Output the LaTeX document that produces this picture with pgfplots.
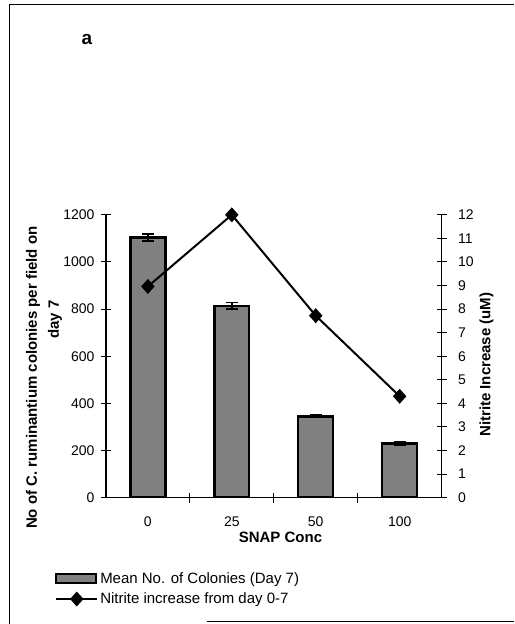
\documentclass[border=0pt]{standalone}
\usepackage{fontspec}
\setmainfont{Liberation Sans}
\usepackage{pgfplots}
\pgfplotsset{compat=1.18}
\usetikzlibrary{patterns}

% bar look: grey with stipple, heavy outline drawn last
\tikzset{colbar/.style={draw=none, fill=black!50,
  postaction={pattern=crosshatch dots, pattern color=white!85!gray},
  postaction={draw=black, line width=2.4pt}}}

\pgfplotsset{
  boxlegend/.style={legend image code/.code={\draw[##1] (0pt,-4.5pt) rectangle (40pt,4.5pt);}},
  linelegend/.style={legend image code/.code={
    \draw[##1, mark=none] (0pt,0pt) -- (41pt,0pt);
    \draw[##1, only marks] plot coordinates {(20.5pt,0pt)};}},
}

\begin{document}
\begin{tikzpicture}[x=1pt,y=1pt]
\path (0,0) rectangle (514,624);

% scanned frame
\draw[line width=1pt] (10,0) -- (10,619) -- (514,619);
\draw[line width=1pt] (207,2) -- (514,2);

\pgfplotsset{
  every axis/.append style={
    scale only axis, width=336pt, height=283pt,
    at={(106pt,126pt)}, anchor=south west,
    xmin=-0.5, xmax=3.5,
    tick align=center, major tick length=10pt, minor tick length=10pt,
    tick style={line width=1pt, black},
    axis line style={line width=1.4pt},
    ticklabel style={font=\fontsize{14}{16}\selectfont},
    /pgf/number format/assume math mode=true,
    /pgf/number format/1000 sep={},
  }
}

% left axis: colony counts
\begin{axis}[
    axis x line*=bottom, axis y line*=left,
    ymin=0, ymax=1200, ytick={0,200,...,1200},
    xtick={0,1,2,3}, xticklabels={0,25,50,100},
    every major x tick/.append style={draw=none},
    minor xtick={0.5,1.5,2.5},
    xticklabel style={yshift=-11pt},
    yticklabel style={xshift=-3pt},
    xlabel={\bfseries SNAP Conc},
    xlabel style={font=\fontsize{15}{17}\selectfont, at={(axis description cs:0.52,-0.141)}, anchor=center},
]
\addplot[ybar, bar width=35pt, colbar,
    error bars/.cd, y dir=both, y explicit,
    error bar style={line width=1.6pt, black},
    error mark options={rotate=90, mark size=6pt, line width=1.8pt, black}]
  coordinates {
    (0,1104) +- (0,16)
    (1,814)  +- (0,14)
    (2,345)  +- (0,5)
    (3,229)  +- (0,8)
  };
\end{axis}

% right axis: nitrite increase
\begin{axis}[
    axis x line=none, axis y line*=right,
    ymin=0, ymax=12, ytick={0,1,...,12},
    yticklabel style={xshift=8pt},
    legend style={at={(axis description cs:-0.152,-0.257)}, anchor=north west,
      draw=none, fill=none, inner sep=0pt, row sep=4pt,
      font=\fontsize{15}{17}\selectfont, cells={anchor=west}},
    legend cell align=left,
]
\addlegendimage{colbar, boxlegend}
\addlegendentry{Mean No. of Colonies (Day 7)}
\addplot[black, line width=2pt, mark=diamond*, mark size=6pt,
  mark options={solid, fill=black, xscale=1.2}, linelegend]
  coordinates {
    (0,8.96)
    (1,12.0)
    (2,7.72)
    (3,4.30)
  };
\addlegendentry{Nitrite increase from day 0-7}
\end{axis}

% axis titles and panel letter
\node[rotate=90, font=\fontsize{15}{17}\selectfont\bfseries] at (33,246)
  {No of C. ruminantium colonies per field on};
\node[rotate=90, font=\fontsize{15}{17}\selectfont\bfseries] at (55,304) {day 7};
\node[rotate=90, font=\fontsize{15}{17}\selectfont\bfseries] at (487,259)
  {Nitrite Increase (uM)};
\node[font=\fontsize{19}{21}\selectfont\bfseries] at (87,584) {a};
\end{tikzpicture}
\end{document}
